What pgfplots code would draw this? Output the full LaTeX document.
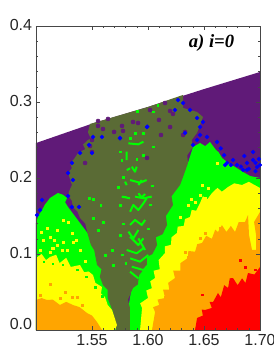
\documentclass[border=0pt]{standalone}
\usepackage{fontspec}
\setmainfont{Liberation Sans}
\newfontfamily\serifbi{Liberation Serif}
\usepackage{pgfplots}
\pgfplotsset{compat=1.18}
\definecolor{cpurple}{RGB}{96,26,120}
\definecolor{colive}{RGB}{90,107,53}
\definecolor{cgreen}{RGB}{0,255,0}
\definecolor{cyellow}{RGB}{255,255,0}
\definecolor{corange}{RGB}{255,165,0}
\definecolor{cred}{RGB}{255,0,0}
\definecolor{cblue}{RGB}{0,0,255}
\definecolor{caxis}{RGB}{70,70,70}
\begin{document}
\begin{tikzpicture}
\useasboundingbox (-27pt,-18.75pt) rectangle (178.5pt,247.5pt);
\begin{axis}[
  at={(0pt,0pt)}, anchor=south west,
  scale only axis, width=168pt, height=228pt,
  xmin=1.5, xmax=1.7, ymin=0, ymax=0.4,
  xtick={1.55,1.60,1.65,1.70},
  xticklabels={1.55,1.60,1.65,1.70},
  ytick={0.1,0.2,0.3,0.4},
  yticklabels={0.1,0.2,0.3,0.4},
  extra y ticks={0}, extra y tick labels={0.0},
  extra y tick style={yticklabel style={yshift=3.2pt}},
  minor x tick num=4, minor y tick num=4,
  tick align=inside, xtick pos=both, ytick pos=both,
  major tick length=3pt, minor tick length=1.6pt,
  tick style={caxis, line width=0.35pt},
  axis line style={caxis, line width=0.35pt},
  axis on top,
  tick label style={font=\fontsize{12}{12}\selectfont, text=black!85},
  yticklabel style={xshift=0.6pt, yshift=1pt},
  xticklabel style={yshift=0.5pt},
  clip=true,
]
% purple domain
\addplot[fill=cpurple, draw=none] coordinates {(1.5,0) (1.5,0.246) (1.55,0.2715) (1.60,0.2935) (1.65,0.317) (1.70,0.3395) (1.70,0)} --cycle;
% green wings
\addplot[fill=cgreen, draw=none] coordinates {(1.5795,0) (1.59,0.10) (1.62,0.20) (1.6357,0.2198) (1.6402,0.2408) (1.6465,0.2461) (1.6510,0.2420) (1.6554,0.2474) (1.6607,0.2369) (1.6630,0.2340) (1.6661,0.2264) (1.6715,0.2198) (1.6777,0.2145) (1.6849,0.2079) (1.6911,0.2027) (1.70,0.2000) (1.70,0)} --cycle;
\addplot[fill=cgreen, draw=none] coordinates {(1.5,0.1408) (1.5020,0.1500) (1.5054,0.1579) (1.5080,0.1650) (1.5125,0.1737) (1.5150,0.1760) (1.5196,0.1803) (1.5240,0.1780) (1.5277,0.1737) (1.5260,0.1680) (1.5286,0.1619) (1.56,0.10) (1.572,0) (1.5,0)} --cycle;
% olive core
\addplot[fill=colive, draw=none] coordinates {(1.5482,0.2711) (1.5464,0.2600) (1.5490,0.2520) (1.5464,0.2500) (1.5420,0.2440) (1.5440,0.2380) (1.5375,0.2329) (1.5340,0.2250) (1.5304,0.2198) (1.5320,0.2130) (1.5286,0.2066) (1.5300,0.2000) (1.5321,0.1908) (1.5300,0.1840) (1.5286,0.1777) (1.5320,0.1700) (1.5330,0.1619) (1.5370,0.1560) (1.5393,0.1474) (1.5440,0.1400) (1.5464,0.1250) (1.5490,0.1120) (1.5520,0.1050) (1.5545,0.0855) (1.5585,0.0800) (1.5570,0.0700) (1.5598,0.0592) (1.5640,0.0530) (1.5640,0.0420) (1.5688,0.0237) (1.5714,0)
(1.5839,0) (1.5839,0.0290) (1.5820,0.0400) (1.5866,0.0553) (1.5910,0.0600) (1.5920,0.0720) (1.5991,0.0855) (1.5990,0.0960) (1.6040,0.1000) (1.6081,0.1119) (1.6070,0.1220) (1.6130,0.1260) (1.6170,0.1382) (1.6160,0.1500) (1.6223,0.1645) (1.6210,0.1760) (1.6286,0.1908) (1.6313,0.2013) (1.6357,0.2198) (1.6350,0.2300) (1.6402,0.2408) (1.6390,0.2500) (1.6438,0.2593) (1.6491,0.2803) (1.6438,0.2869) (1.6313,0.2922) (1.6313,0.3093) (1.6,0.2935)} --cycle;
% yellow
\addplot[fill=cyellow, draw=none] coordinates {(1.5929,0) (1.5947,0.0290) (1.5930,0.035) (1.6,0.0421) (1.5985,0.052) (1.6035,0.055) (1.6020,0.064) (1.6063,0.0684) (1.6050,0.078) (1.6105,0.080) (1.6095,0.092) (1.6152,0.1013) (1.6150,0.110) (1.6205,0.112) (1.6210,0.122) (1.6259,0.1277) (1.6265,0.136) (1.6320,0.137) (1.6330,0.146) (1.6375,0.1487) (1.6390,0.158) (1.6430,0.157) (1.6465,0.1671) (1.6490,0.176) (1.6530,0.172) (1.6572,0.1803) (1.6620,0.187) (1.6660,0.182) (1.6715,0.1882) (1.6770,0.193) (1.6840,0.1908) (1.6900,0.1950) (1.70,0.1869) (1.70,0)} --cycle;
\addplot[fill=cyellow, draw=none] coordinates {(1.5,0.0947) (1.5050,0.1000) (1.5090,0.0920) (1.5125,0.0961) (1.5180,0.0990) (1.5210,0.0880) (1.5270,0.0950) (1.5310,0.0830) (1.5393,0.0855) (1.5430,0.0760) (1.5470,0.0770) (1.5509,0.0724) (1.5530,0.0620) (1.5589,0.0566) (1.5580,0.0480) (1.5616,0.0434) (1.5640,0.0330) (1.5679,0.0263) (1.5723,0.0066) (1.5705,0) (1.5,0)} --cycle;
% orange
\addplot[fill=corange, draw=none] coordinates {(1.6036,0) (1.6063,0.0237) (1.6045,0.0300) (1.6100,0.0330) (1.6085,0.0400) (1.6152,0.0421) (1.6135,0.0530) (1.6190,0.0530) (1.6180,0.0620) (1.6241,0.0684) (1.6225,0.0780) (1.6290,0.0780) (1.6290,0.0880) (1.6357,0.0948) (1.6360,0.1040) (1.6420,0.1030) (1.6440,0.1130) (1.6482,0.1145) (1.6520,0.1240) (1.6570,0.1200) (1.6600,0.1320) (1.6625,0.1290) (1.6660,0.1380) (1.6700,0.1290) (1.6740,0.1370) (1.6777,0.1290) (1.6810,0.1420) (1.6866,0.1421) (1.6893,0.1513) (1.6902,0.1250) (1.6929,0.1053) (1.6965,0.1053) (1.6965,0.1250) (1.6947,0.1421) (1.70,0.1553) (1.70,0)} --cycle;
\addplot[fill=corange, draw=none] coordinates {(1.5,0.0395) (1.5050,0.0420) (1.5098,0.0395) (1.5150,0.0400) (1.5214,0.0329) (1.5270,0.0370) (1.5330,0.0329) (1.5390,0.0300) (1.5455,0.0224) (1.5500,0.0190) (1.5545,0.0105) (1.5589,0) (1.5,0)} --cycle;
% red
\addplot[fill=cred, draw=none] coordinates {(1.6420,0) (1.6438,0.0158) (1.6490,0.0190) (1.6480,0.0270) (1.6509,0.0263) (1.6570,0.0290) (1.6550,0.0370) (1.6581,0.0368) (1.6625,0.0487) (1.6650,0.0430) (1.6680,0.0590) (1.6715,0.0553) (1.6730,0.0680) (1.6759,0.0684) (1.6800,0.0590) (1.6840,0.0680) (1.6870,0.0620) (1.6893,0.0750) (1.6950,0.0730) (1.70,0.0829) (1.70,0)} --cycle;
% green strokes in core
\addplot[cgreen, line width=1.5pt, line join=round, unbounded coords=jump] coordinates {
(1.5765,0.1755) (1.5840,0.1733) (1.6,nan)
(1.5884,0.1755) (1.5959,0.1733) (1.6033,0.1755) (1.6,nan)
(1.5840,0.1557) (1.5869,0.1645) (1.5914,0.1579) (1.5959,0.1667) (1.5988,0.1733) (1.6,nan)
(1.5840,0.1382) (1.5884,0.1448) (1.5944,0.1382) (1.5974,0.1448) (1.6,nan)
(1.5825,0.1294) (1.5869,0.1206) (1.5914,0.1316) (1.6,nan)
(1.5840,0.1228) (1.5914,0.1118) (1.5959,0.1206) (1.6,nan)
(1.5914,0.1206) (1.5974,0.1053) (1.6,nan)
(1.5810,0.1053) (1.5899,0.1009) (1.5959,0.1075) (1.6,nan)
(1.5840,0.0943) (1.5929,0.0899) (1.6003,0.0987) (1.6,nan)
(1.5855,0.0833) (1.5959,0.0789) (1.6018,0.0877) (1.6,nan)
(1.5840,0.0767) (1.5914,0.0679) (1.6,nan)
(1.5825,0.2456) (1.5914,0.2443) (1.5959,0.2478) (1.6,nan)
(1.5810,0.2346) (1.5810,0.2236) (1.6,nan)
(1.5810,0.2105) (1.5840,0.2127) (1.6,nan)
(1.5855,0.2149) (1.5884,0.2083) (1.5899,0.2149) (1.6,nan)
(1.5840,0.1973) (1.5929,0.1938) (1.5988,0.1973) (1.6,nan)
(1.5914,0.1907) (1.5944,0.1973) (1.6,nan)
(1.5795,0.1951) (1.5810,0.1907) (1.6,nan)
(1.5780,0.1754) (1.5810,0.1745) (1.6,nan)
(1.5914,0.1798) (1.5944,0.1745) (1.5974,0.1789)
};
% isolated green
\addplot[only marks, mark=square*, mark size=0.6pt, cgreen] coordinates {
(1.5509,0.1724) (1.5473,0.1737) (1.5580,0.1645) (1.5598,0.1421) (1.5554,0.1316) (1.5750,0.1645) (1.5732,0.1882) (1.5509,0.1474) (1.5679,0.1053) (1.5616,0.0987) (1.6045,0.2869) (1.5902,0.2882) (1.6089,0.2961) (1.5777,0.2013)
(1.5899,0.2245) (1.5750,0.2346) (1.5884,0.2588) (1.5959,0.2588) (1.5840,0.2522) (1.6048,0.2412) (1.5765,0.2236) (1.5959,0.2302) (1.5780,0.1400) (1.5750,0.1250) (1.5770,0.0990) (1.5800,0.0880) (1.5690,0.0850) (1.6000,0.1330) (1.6020,0.1650) (1.6040,0.1900)};
% purple blobs
\addplot[only marks, mark=*, mark size=1.5pt, cpurple] coordinates {
(1.5438,0.2198) (1.5598,0.2645) (1.5697,0.2606) (1.5768,0.2685) (1.5777,0.2619) (1.5866,0.2737) (1.5911,0.2724) (1.6098,0.2764) (1.6197,0.2671) (1.6116,0.2566) (1.6331,0.2606) (1.6313,0.2566) (1.6018,0.2895) (1.6197,0.2882) (1.6223,0.2843) (1.6152,0.2987) (1.5991,0.2264) (1.55,0.2342) (1.55,0.25) (1.5482,0.2421) (1.5643,0.2777) (1.5554,0.2750) (1.5554,0.2685)};
% blue blobs
\addplot[only marks, mark=*, mark size=1.4pt, cblue] coordinates {
(1.6402,0.2435) (1.6438,0.25) (1.6465,0.2566) (1.6331,0.2593) (1.6465,0.2671) (1.6491,0.2737) (1.6527,0.2540) (1.6616,0.2474) (1.6759,0.2237) (1.6706,0.2198) (1.6938,0.2237) (1.6974,0.2145) (1.6884,0.2106) (1.6938,0.2342) (1.6688,0.2171) (1.6795,0.2171) (1.6849,0.2106) (1.6884,0.2198) (1.70,0.2171) (1.6241,0.2895) (1.6268,0.3026) (1.6313,0.2987) (1.6375,0.2895) (1.6438,0.2790)
(1.6650,0.2390) (1.6680,0.2300) (1.6740,0.2170) (1.6830,0.2150) (1.6900,0.2120) (1.6960,0.2090) (1.6990,0.2250) (1.6860,0.2290) (1.6960,0.2200)
(1.5321,0.2198) (1.5286,0.2066) (1.5393,0.2329) (1.5473,0.2435) (1.55,0.2329) (1.5509,0.2540) (1.5589,0.2540) (1.5286,0.1763) (1.5321,0.1619) (1.5384,0.1619) (1.5054,0.1711) (1.5036,0.1579) (1.5009,0.1513) (1.5330,0.1974) (1.5750,0.2522) (1.5994,0.2676) (1.5991,0.2671) (1.5750,0.2527)};
% yellow specks
\addplot[only marks, mark=square*, mark size=0.8pt, cyellow] coordinates {
(1.5098,0.1342) (1.5188,0.1316) (1.5241,0.1447) (1.5286,0.1421) (1.5321,0.1277) (1.5125,0.1224) (1.5241,0.1158) (1.5063,0.1184) (1.5188,0.1119) (1.5330,0.1158) (1.5393,0.1053) (1.5125,0.1026) (1.5232,0.1053) (1.5036,0.1053) (1.5150,0.1080) (1.5280,0.1050) (1.5160,0.1180) (1.5050,0.1290) (1.5360,0.1180) (1.5440,0.0900)
(1.6482,0.1908) (1.6536,0.1869) (1.6465,0.1777) (1.6357,0.1645) (1.6420,0.1684) (1.6616,0.2198) (1.6509,0.1737) (1.6390,0.1720) (1.6290,0.1480)};
% green specks inside left yellow
\addplot[only marks, mark=square*, mark size=0.6pt, cgreen] coordinates {
(1.5070,0.0900) (1.5150,0.0870) (1.5240,0.0860) (1.5370,0.0790) (1.5450,0.0700) (1.5530,0.0560) (1.5590,0.0440)};
% orange specks
\addplot[only marks, mark=square*, mark size=0.85pt, corange] coordinates {
(1.5125,0.0605) (1.5259,0.05) (1.5321,0.0434) (1.5214,0.0421) (1.5036,0.0461) (1.5366,0.0434) (1.5411,0.0329)
(1.6643,0.1342) (1.6465,0.1211) (1.6357,0.0961) (1.6331,0.1026) (1.6268,0.0763) (1.6509,0.1277) (1.6152,0.0434)};
% red specks
\addplot[only marks, mark=square*, mark size=0.6pt, cred] coordinates {
(1.6482,0.0461) (1.6822,0.0921) (1.6866,0.0829) (1.6956,0.0790) (1.6688,0.05)};
\node[font=\serifbi\bfseries\itshape\fontsize{14}{14}\selectfont, text=black] at (axis cs:1.6567,0.378) {a) i=0};
\end{axis}
\end{tikzpicture}
\end{document}
